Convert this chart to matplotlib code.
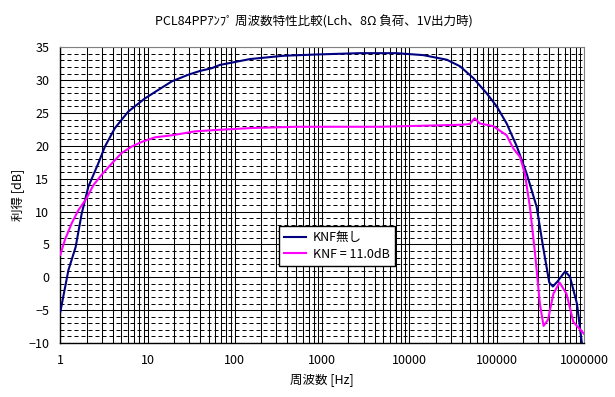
import numpy as np
import matplotlib
matplotlib.use("Agg")
import matplotlib.pyplot as plt
from matplotlib.ticker import FixedLocator, MultipleLocator, NullFormatter

plt.rcParams['font.family'] = ['Noto Sans CJK JP', 'DejaVu Sans']

# KNF無し (no feedback)
freq_nofb = [1, 1.24, 1.5, 1.76, 2.1, 2.72, 3.25, 4.23, 6.0, 9.3, 12.2, 18.9, 29,
             40, 54, 67, 149, 357, 870, 2700, 7100, 14400, 26800, 38000, 54000,
             76600, 100000, 130000, 170000, 220000, 287000, 340000, 400000,
             440000, 500000, 607000, 690000, 830000, 945000]
gain_nofb = [-5.3, 1.1, 4.6, 9.7, 13.8, 17.3, 19.9, 22.7, 25.2, 27.2, 28.2, 29.8, 30.8,
             31.4, 31.8, 32.3, 33.2, 33.7, 33.9, 34.1, 34.1, 33.8, 33.1, 32.1, 30.3,
             28.0, 26.0, 23.4, 19.9, 15.8, 10.7, 4.6, -0.8,
             -1.4, -0.6, 0.9, 0.1, -4.0, -10.0]

# KNF = 11.0dB
freq_knf = [1, 1.13, 1.35, 1.61, 2.0, 2.39, 2.98, 3.88, 5.05, 6.6, 8.6, 12.2, 18.9,
            35, 59, 150, 500, 2000, 4600, 38000, 49000, 56000, 64000, 91000,
            130000, 155000, 185000, 210000, 240000, 275000, 312000, 344000,
            386000, 446000, 525000, 630000, 755000, 910000, 1000000]
gain_knf = [3.4, 5.7, 8.2, 10.2, 12.0, 14.0, 15.6, 17.3, 18.9, 19.9, 20.6, 21.3, 21.6,
            22.2, 22.4, 22.7, 22.9, 22.9, 22.9, 23.2, 23.3, 24.2, 23.4, 23.0,
            21.6, 19.6, 18.3, 15.8, 10.7, 3.6, -4.0, -7.4,
            -6.5, -2.5, -0.8, -2.5, -6.8, -8.0, -8.6]

x_ticks = [1, 10, 100, 1000, 10000, 100000, 1000000]
x_labels = ["1", "10", "100", "1000", "10000", "100000", "1000000"]

fig = plt.figure(figsize=(6.15, 3.97), dpi=100)
ax = fig.add_axes([0.098, 0.136, 0.8516, 0.745])

ax.plot(freq_nofb, gain_nofb, color='#000080', lw=1.5, label='KNF無し', zorder=3)
ax.plot(freq_knf, gain_knf, color='#FF00FF', lw=1.5, label='KNF = 11.0dB', zorder=3)

ax.set_xscale('log')
ax.set_xlim(1, 1000000)
ax.set_ylim(-10, 35)

ax.xaxis.set_major_locator(FixedLocator(x_ticks))
ax.set_xticklabels(x_labels)
ax.xaxis.set_minor_locator(FixedLocator(
    [m * 10**d for d in range(6) for m in range(2, 10)]))
ax.xaxis.set_minor_formatter(NullFormatter())
ax.yaxis.set_major_locator(MultipleLocator(5))
ax.yaxis.set_minor_locator(MultipleLocator(1))

ax.xaxis.grid(True, which='both', color='black', lw=0.75, ls='-')
ax.yaxis.grid(True, which='major', color='black', lw=0.75, ls='-')
ax.yaxis.grid(True, which='minor', color='black', lw=0.72, dashes=(4, 3))
ax.set_axisbelow(True)

ax.tick_params(which='both', length=0, labelsize=9, colors='black', pad=8)

for side in ['left', 'bottom']:
    ax.spines[side].set_linewidth(1.0)
    ax.spines[side].set_color('black')
for side in ['top', 'right']:
    ax.spines[side].set_color('#808080')
    ax.spines[side].set_linestyle((0, (1, 1)))
    ax.spines[side].set_linewidth(0.8)

ax.set_xlabel('周波数 [Hz]', fontsize=9, labelpad=4)
ax.set_ylabel('利得 [dB]', fontsize=9, labelpad=2)
fig.text(0.510, 0.945, 'PCL84PPｱﾝﾌﾟ 周波数特性比較(Lch、8Ω 負荷、1V出力時)',
         ha='center', va='center', fontsize=9)

leg = ax.legend(loc='upper left', bbox_to_anchor=(0.4176, 0.3957), borderaxespad=0,
                fancybox=False, edgecolor='black', framealpha=1, fontsize=9,
                handlelength=1.8, handletextpad=0.5, borderpad=0.4, labelspacing=0.3)
leg.get_frame().set_linewidth(1.0)

fig.savefig('out.png', dpi=100)
